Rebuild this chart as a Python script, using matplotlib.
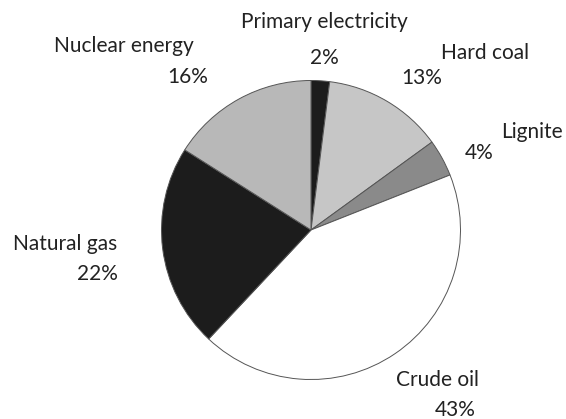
import matplotlib.pyplot as plt

sources = ["Primary electricity", "Hard coal", "Lignite", "Crude oil",
           "Natural gas", "Nuclear energy"]
shares = [2, 13, 4, 43, 22, 16]
colors = ["#1c1c1c", "#c6c6c6", "#8a8a8a", "#ffffff", "#1c1c1c", "#b8b8b8"]

# label centres in pixels (x, y measured from the top)
label_pos = {
    "Primary electricity": (324, 22),
    "Hard coal": (485, 53),
    "Lignite": (532, 132),
    "Crude oil": (437, 380),
    "Natural gas": (65, 244),
    "Nuclear energy": (124, 46),
}
pct_pos = {
    "Primary electricity": (324, 58),
    "Hard coal": (422, 78),
    "Lignite": (479, 153),
    "Crude oil": (455, 410),
    "Natural gas": (97, 274),
    "Nuclear energy": (188, 77),
}

W, H = 566, 419
fig = plt.figure(figsize=(W / 100, H / 100), dpi=100)
fig.patch.set_facecolor("white")

cx, cy, r = 311, 230, 151
ax = fig.add_axes([(cx - r) / W, (H - cy - r) / H, 2 * r / W, 2 * r / H])
ax.pie(shares, colors=colors, startangle=90, counterclock=False,
       radius=1, wedgeprops=dict(edgecolor="#555555", linewidth=0.7))
ax.set_xlim(-1.01, 1.01)
ax.set_ylim(-1.01, 1.01)
ax.axis("off")

font = dict(family=["Lato", "DejaVu Sans"], size=15, color="#222222")
for name, val in zip(sources, shares):
    x, y = label_pos[name]
    fig.text(x / W, 1 - y / H, name, ha="center", va="center", **font)
    x, y = pct_pos[name]
    fig.text(x / W, 1 - y / H, f"{val}%", ha="center", va="center", **font)

fig.savefig("out.png", dpi=100)
